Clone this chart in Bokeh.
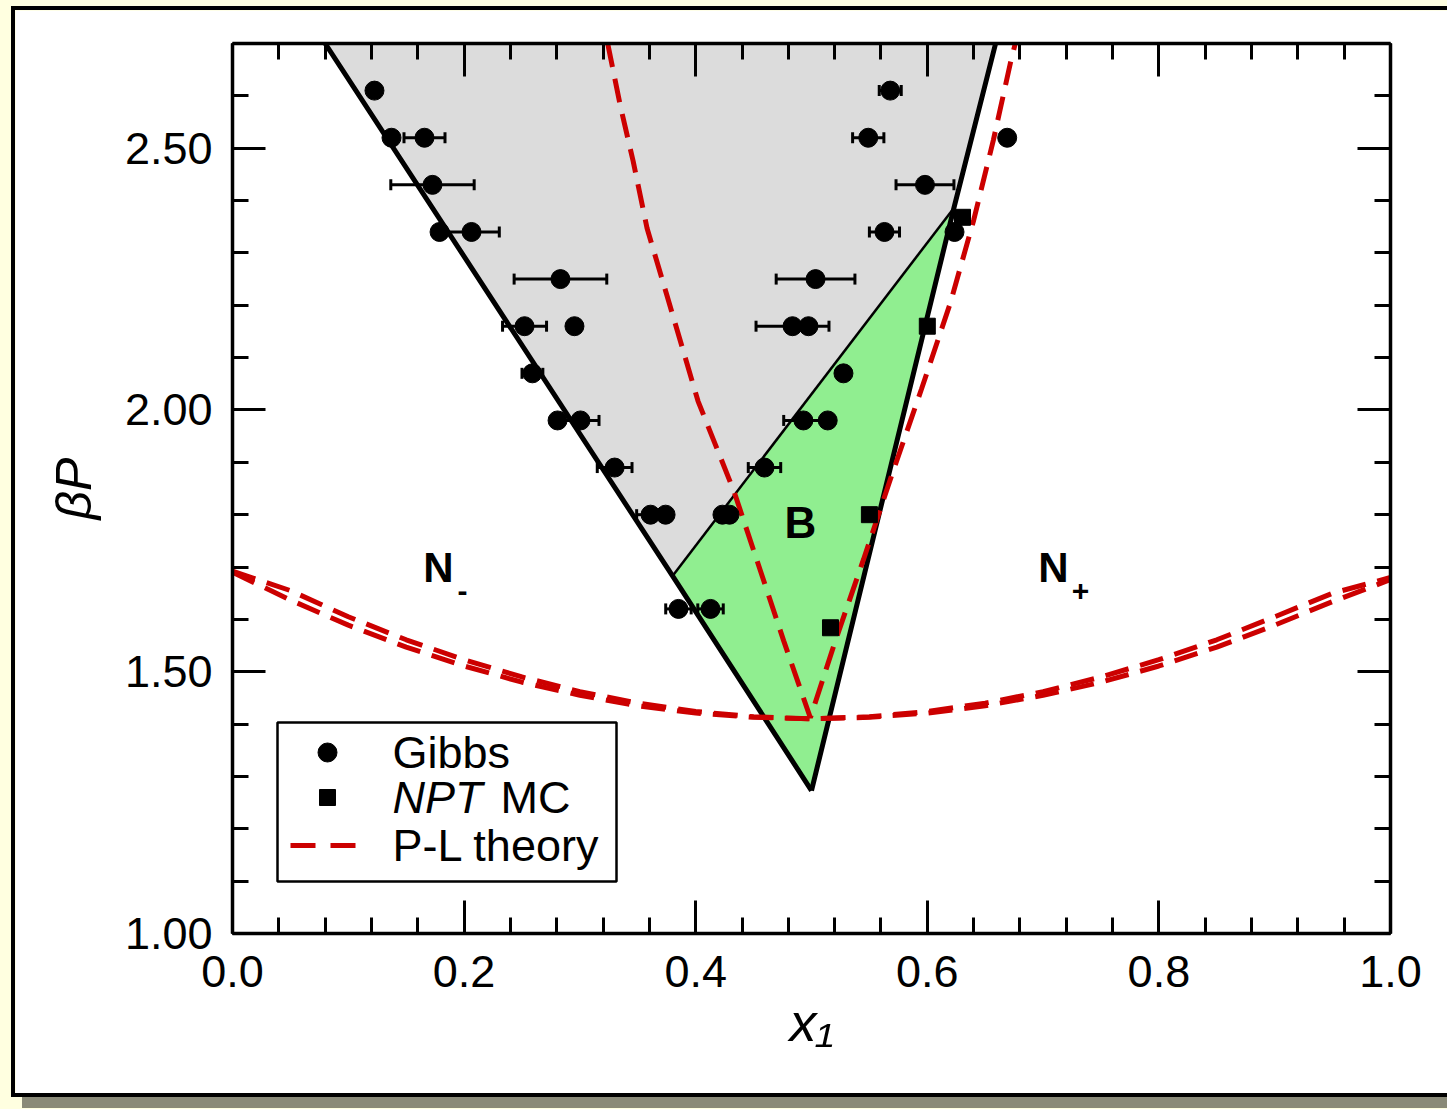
from bokeh.plotting import figure
from bokeh.layouts import column
from bokeh.models import (ColumnDataSource, Whisker, TeeHead, Label, BoxAnnotation,
                          LinearAxis, SingleIntervalTicker, PrintfTickFormatter,
                          CustomJSTickFormatter, Range1d)
from bokeh.embed import file_html
from bokeh.resources import INLINE

FONT = "Liberation Sans"

# ---------------- data ----------------
# Gibbs-ensemble coexistence points (composition x1, pressure beta*P, x-error)
gibbs_x = [0.1226, 0.568,
           0.1373, 0.1658, 0.549, 0.669,
           0.1727, 0.598,
           0.1788, 0.2064, 0.563, 0.6235,
           0.2832, 0.5035,
           0.2522, 0.2953, 0.4836, 0.4974,
           0.259, 0.5276,
           0.2807, 0.3005, 0.493, 0.514,
           0.330, 0.4594,
           0.361, 0.374, 0.4231, 0.4292,
           0.3851, 0.4128]
gibbs_p = [2.61, 2.61,
           2.52, 2.52, 2.52, 2.52,
           2.43, 2.43,
           2.34, 2.34, 2.34, 2.34,
           2.25, 2.25,
           2.16, 2.16, 2.16, 2.16,
           2.07, 2.07,
           1.98, 1.98, 1.98, 1.98,
           1.89, 1.89,
           1.80, 1.80, 1.80, 1.80,
           1.62, 1.62]
gibbs_err = [0.0, 0.0095,
             0.0, 0.0177, 0.0135, 0.0,
             0.036, 0.025,
             0.0, 0.024, 0.013, 0.0,
             0.040, 0.034,
             0.019, 0.0, 0.0315, 0.0,
             0.009, 0.0,
             0.0, 0.016, 0.017, 0.0,
             0.015, 0.014,
             0.012, 0.0, 0.0, 0.0,
             0.011, 0.011]

# NPT Monte Carlo state points
npt_x = [0.6304, 0.600, 0.550, 0.5164]
npt_p = [2.368, 2.160, 1.800, 1.584]

# Phase boundaries
left_bx = [0.080, 0.380, 0.500]
left_by = [2.70, 1.683, 1.273]
right_bx = [0.659, 0.623, 0.500]
right_by = [2.70, 2.386, 1.273]
# demixed (grey) and biaxial (green) regions
gray_x = [0.080, 0.659, 0.623, 0.380]
gray_y = [2.70, 2.70, 2.386, 1.683]
green_x = [0.380, 0.623, 0.500]
green_y = [1.683, 2.386, 1.273]
sep_x = [0.380, 0.623]
sep_y = [1.683, 2.386]

# P-L theory: nematic-biaxial transition (two nearly coincident branches)
pl_x = [0.00, 0.05, 0.10, 0.15, 0.20, 0.25, 0.30, 0.35, 0.40, 0.45, 0.50,
        0.55, 0.60, 0.65, 0.70, 0.75, 0.80, 0.85, 0.90, 0.95, 1.00]
pl_upper = [1.692, 1.655, 1.605, 1.561, 1.523, 1.490, 1.462, 1.440, 1.424, 1.414, 1.410,
            1.414, 1.424, 1.440, 1.462, 1.490, 1.523, 1.561, 1.605, 1.650, 1.680]
pl_lower = [1.690, 1.637, 1.589, 1.547, 1.511, 1.480, 1.455, 1.435, 1.421, 1.413, 1.410,
            1.413, 1.421, 1.435, 1.455, 1.480, 1.511, 1.547, 1.589, 1.634, 1.676]
# P-L theory: demixing boundaries
pl_v_x = [0.324, 0.335, 0.346, 0.358, 0.375, 0.402, 0.433, 0.453, 0.476, 0.499,
          0.520, 0.545, 0.570, 0.595, 0.620, 0.640, 0.657, 0.672, 0.676]
pl_v_y = [2.70, 2.58, 2.475, 2.347, 2.22, 2.017, 1.845, 1.712, 1.559, 1.412,
          1.555, 1.715, 1.880, 2.040, 2.205, 2.362, 2.515, 2.665, 2.70]

X0, X1 = 0.0, 1.0
Y0, Y1 = 1.0, 2.7

# ---------------- figure ----------------
PAGE_W, PAGE_H = 1447, 1109
OFF_L, OFF_T = 15, 10                 # white panel offset on the page
W, H = PAGE_W - OFF_L, 1083           # white panel size
FL, FT, FW, FH = 232, 43, 1158, 890   # frame placement on the page
RED = "#CC0000"
DASH = "24 12"
RED_W = 5

p = figure(width=W, height=H, output_backend="svg", toolbar_location=None,
           x_range=Range1d(X0, X1), y_range=Range1d(Y0, Y1),
           x_axis_location=None, y_axis_location=None,
           min_border_left=FL - OFF_L, min_border_top=FT - OFF_T,
           min_border_right=PAGE_W - FL - FW, min_border_bottom=H - (FT - OFF_T) - FH)
p.border_fill_color = "white"
p.background_fill_color = "white"
p.outline_line_color = None
p.grid.visible = False
p.margin = (OFF_T, 0, PAGE_H - OFF_T - H, OFF_L)
# black rim and olive drop shadow of the panel
p.styles = {"box-shadow": "0px 0px 0px 4px #000000, 11px 11px 0px 4px #8A8A78"}


def sx2x(sx):
    return X0 + (sx - FL) / FW * (X1 - X0)


def sy2y(sy):
    return Y0 + (FT + FH - sy) / FH * (Y1 - Y0)


# axes
def make_axis(ticker, fmt, labels=True):
    ax = LinearAxis(ticker=ticker, formatter=fmt)
    ax.axis_line_width = 3.5
    ax.axis_line_color = "black"
    ax.major_tick_in = 33
    ax.major_tick_out = 0
    ax.minor_tick_in = 16
    ax.minor_tick_out = 0
    ax.major_tick_line_width = 3
    ax.minor_tick_line_width = 3
    ax.major_tick_line_color = "black"
    ax.minor_tick_line_color = "black"
    ax.major_label_text_font = FONT
    ax.major_label_text_color = "black"
    ax.axis_label_text_font = FONT
    ax.axis_label_text_color = "black"
    if labels:
        ax.major_label_text_font_size = "45px"
    else:
        ax.major_label_text_font_size = "1px"
        ax.major_label_standoff = 0
    return ax

xt = dict(interval=0.2, num_minor_ticks=5)
yt = dict(interval=0.5, num_minor_ticks=5)
blank = CustomJSTickFormatter(code="return ''")

xb = make_axis(SingleIntervalTicker(**xt), PrintfTickFormatter(format="%.1f"))
xb.major_label_standoff = 22
xb.axis_label = "x₁"
xb.axis_label_text_font_style = "italic"
xb.axis_label_text_font_size = "54px"
xb.axis_label_standoff = 2
yl = make_axis(SingleIntervalTicker(**yt), PrintfTickFormatter(format="%.2f"))
yl.major_label_standoff = 20
yl.axis_label = "βP"
yl.axis_label_text_font_style = "italic"
yl.axis_label_text_font_size = "50px"
yl.axis_label_standoff = 20
xa = make_axis(SingleIntervalTicker(**xt), blank, labels=False)
yr = make_axis(SingleIntervalTicker(**yt), blank, labels=False)
p.add_layout(xb, "below")
p.add_layout(yl, "left")
p.add_layout(xa, "above")
p.add_layout(yr, "right")

# regions
p.patch(gray_x, gray_y, fill_color="#DCDCDC", line_color=None)
p.patch(green_x, green_y, fill_color="#90EE90", line_color=None)
p.line(left_bx, left_by, line_color="black", line_width=5)
p.line(right_bx, right_by, line_color="black", line_width=5)
p.line(sep_x, sep_y, line_color="black", line_width=2.5)

# theory curves
p.line(pl_x, pl_upper, line_color=RED, line_width=RED_W, line_dash=DASH)
p.line(pl_x, pl_lower, line_color=RED, line_width=RED_W, line_dash=DASH)
p.line(pl_v_x, pl_v_y, line_color=RED, line_width=RED_W, line_dash=DASH)

# error bars
ex = [x for x, e in zip(gibbs_x, gibbs_err) if e > 0]
ey = [y for y, e in zip(gibbs_p, gibbs_err) if e > 0]
ee = [e for e in gibbs_err if e > 0]
err_src = ColumnDataSource(dict(y=ey, lo=[x - e for x, e in zip(ex, ee)], hi=[x + e for x, e in zip(ex, ee)]))
wh = Whisker(source=err_src, base="y", lower="lo", upper="hi", dimension="width",
             line_color="black", line_width=3, level="annotation",
             upper_head=TeeHead(size=11, line_width=3, line_color="black"),
             lower_head=TeeHead(size=11, line_width=3, line_color="black"))
p.add_layout(wh)

# data points
p.scatter(gibbs_x, gibbs_p, marker="circle", size=19, fill_color="black", line_color="black")
p.scatter(npt_x, npt_p, marker="square", size=16, fill_color="black", line_color="black")


def txt(x, y, s, size, style="normal", units="data", align="center", baseline="middle"):
    lab = Label(x=x, y=y, x_units=units, y_units=units, text=s, text_font=FONT,
                text_font_size=size, text_font_style=style, text_color="black",
                text_align=align, text_baseline=baseline)
    p.add_layout(lab)
    return lab

# region labels
txt(sx2x(438), sy2y(567), "N", "42px", "bold")
txt(sx2x(462), sy2y(590), "-", "30px", "bold")
txt(sx2x(800), sy2y(522), "B", "44px", "bold")
txt(sx2x(1053), sy2y(567), "N", "42px", "bold")
txt(sx2x(1080), sy2y(590), "+", "30px", "bold")

# legend (screen units relative to the frame's bottom-left corner)
BOT = FT + FH
leg_box = BoxAnnotation(left=277 - FL, right=616 - FL, top=BOT - 722, bottom=BOT - 881,
                        left_units="screen", right_units="screen", top_units="screen", bottom_units="screen",
                        fill_color="white", fill_alpha=1.0, line_color="black", line_width=2.5,
                        line_alpha=1.0, level="annotation")
p.add_layout(leg_box)
rows = [752, 797, 845]
p.scatter([sx2x(327)], [sy2y(rows[0])], marker="circle", size=19, fill_color="black",
          line_color="black", level="overlay")
p.scatter([sx2x(327)], [sy2y(rows[1])], marker="square", size=16, fill_color="black",
          line_color="black", level="overlay")
p.line([sx2x(290), sx2x(356)], [sy2y(rows[2]), sy2y(rows[2])], line_color=RED, line_width=RED_W,
       line_dash="25 15", level="overlay")
txt(392 - FL, BOT - rows[0], "Gibbs", "45px", units="screen", align="left")
txt(392 - FL, BOT - rows[1], "NPT", "45px", "italic", units="screen", align="left")
txt(500 - FL, BOT - rows[1], "MC", "45px", units="screen", align="left")
txt(392 - FL, BOT - rows[2], "P-L theory", "45px", units="screen", align="left")

page = column(p, styles={"background-color": "#FFFFE0"})

open("out.html", "w").write(file_html(page, INLINE))
